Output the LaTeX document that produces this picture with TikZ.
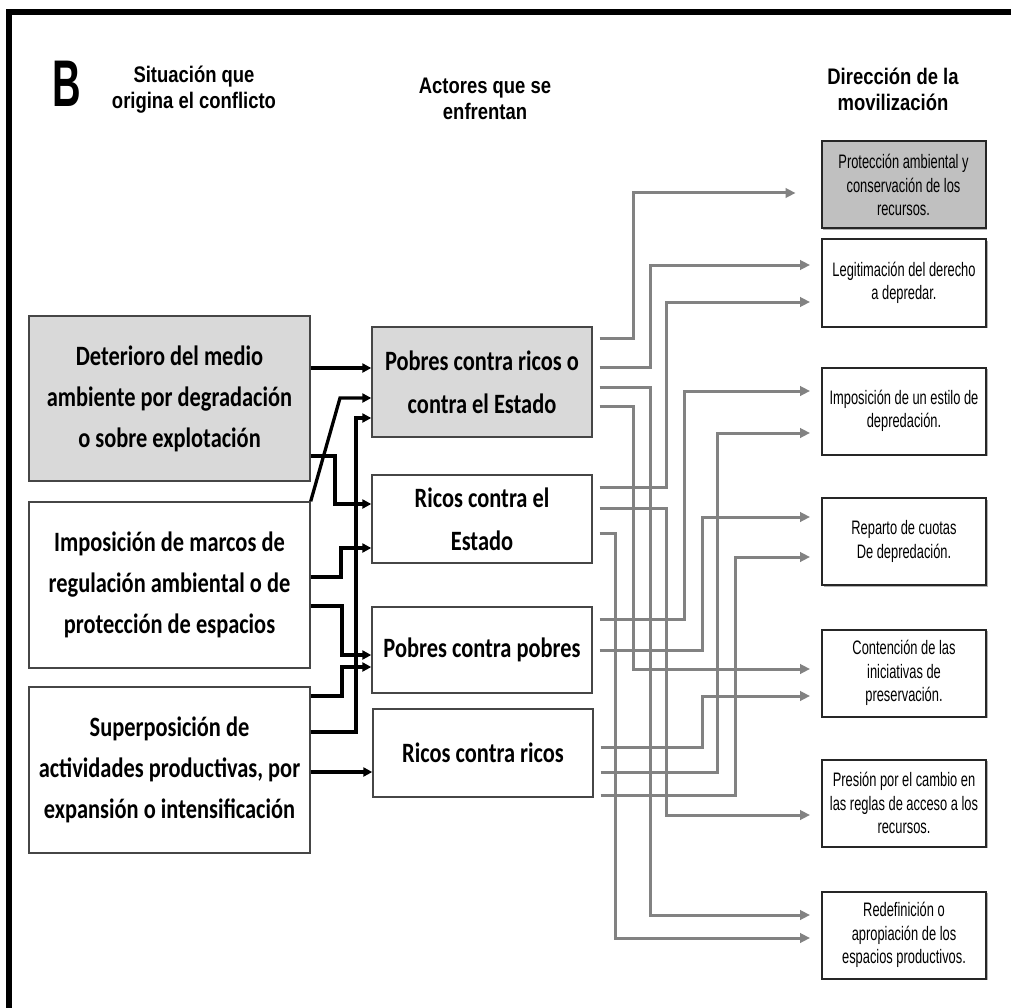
\documentclass[tikz,border=0pt]{standalone}
\usepackage{fontspec}
\usetikzlibrary{arrows.meta,shadows}
\newfontfamily\calfont[FakeStretch=0.80]{Carlito}
\newfontfamily\arnfont[FakeStretch=0.66]{Liberation Sans}
\newfontfamily\headfont[FakeStretch=0.82]{Liberation Sans}
\newfontfamily\bigbfont[FakeStretch=0.60]{Liberation Sans}
\definecolor{boxgray}{RGB}{217,217,217}
\definecolor{rgray}{RGB}{192,192,192}
\definecolor{linegray}{RGB}{130,130,130}
\definecolor{bordergray}{RGB}{70,70,70}
\begin{document}
\begin{tikzpicture}[x=1pt,y=-1pt,
  lbox/.style={draw=bordergray, line width=1.4pt, align=center, inner sep=0pt,
     font=\calfont\bfseries\fontsize{28}{41}\selectfont, text=black},
  mbox/.style={lbox, minimum width=220pt, font=\calfont\bfseries\fontsize{28}{43}\selectfont},
  rbox/.style={draw=black!85, line width=2pt, align=center, inner sep=0pt,
     minimum width=164pt, minimum height=87pt,
     font=\arnfont\fontsize{19.5}{23.5}\selectfont, fill=white,
     drop shadow={shadow xshift=1.5pt, shadow yshift=-1.5pt, fill=black!60, opacity=0.5}},
  hdr/.style={align=center, inner sep=0pt, font=\headfont\bfseries\fontsize{22.5}{26}\selectfont},
  blk/.style={line width=3.3pt, -{Triangle[length=9pt,width=9pt]}},
  gry/.style={draw=linegray, line width=3pt, -{Triangle[length=10pt,width=9.5pt]},
     shorten <=7pt, shorten >=11pt}
]
\useasboundingbox (0,0) rectangle (1011,1008);
\fill[white] (0,0) rectangle (1011,1008);
% frame
\draw[line width=6pt] (9,1014) -- (9,12) -- (1016,12);

% headers
\node[font=\bigbfont\bfseries\fontsize{66}{66}\selectfont, inner sep=0pt] (B) at (67,84) {B};
\node[hdr] (h1) at (194,90) {Situación que\\origina el conflicto};
\node[hdr] (h2) at (485,99) {Actores que se\\enfrentan};
\node[hdr] (h3) at (893,89) {Dirección de la\\movilización};

% left boxes
\node[lbox, fill=boxgray, minimum width=281pt, minimum height=165pt] (L1) at (169.5,398.5)
  {Deterioro del medio\\ambiente por degradación\\o sobre explotación};
\node[lbox, minimum width=281pt, minimum height=166pt] (L2) at (169.5,585)
  {Imposición de marcos de\\regulación ambiental o de\\protección de espacios};
\node[lbox, minimum width=281pt, minimum height=166pt] (L3) at (169.5,770)
  {Superposición de\\actividades productivas, por\\expansión o intensificación};

% middle boxes
\node[mbox, fill=boxgray, minimum height=110pt] (M1) at (482,382) {Pobres contra ricos o\\contra el Estado};
\node[mbox, minimum height=88pt] (M2) at (482,519) {Ricos contra el\\Estado};
\node[mbox, minimum height=86pt] (M3) at (482,650) {Pobres contra pobres};
\node[mbox, minimum height=88pt] (M4) at (483,753) {Ricos contra ricos};

% right boxes
\node[rbox, fill=rgray] (R1) at (903.5,185) {Protección ambiental y\\conservación de los\\recursos.};
\node[rbox] (R2) at (904,283) {Legitimación del derecho\\a depredar.};
\node[rbox] (R3) at (904,411) {Imposición de un estilo de\\depredación.};
\node[rbox] (R4) at (904,541.5) {Reparto de cuotas\\De depredación.};
\node[rbox] (R5) at (904,673) {Contención de las\\iniciativas de\\preservación.};
\node[rbox] (R6) at (904,803) {Presión por el cambio en\\las reglas de acceso a los\\recursos.};
\node[rbox] (R7) at (904,935) {Redefinición o\\apropiación de los\\espacios productivos.};

% black connectors
\draw[blk] (L1.east |- 0,368) -- (M1.west |- 0,368);
\draw[blk] (L2.north east) -- (340,398) -- (M1.west |- 0,398);
\draw[blk] (L1.east |- 0,456) -- (335,456) |- (M2.west |- 0,504);
\draw[blk] (L3.east |- 0,732) -- (356,732) |- (M1.west |- 0,418);
\draw[blk] (L2.east |- 0,577) -- (341,577) |- (M2.west |- 0,548);
\draw[blk] (L2.east |- 0,606) -- (342,606) |- (M3.west |- 0,655);
\draw[blk] (L3.east |- 0,696) -- (342,696) |- (M3.west |- 0,667);
\draw[blk] (L3.east |- 0,772) -- (M4.west |- 0,772);

% gray connectors
\draw[gry, shorten >=25pt] (M1.east |- 0,338) -- (633,338) |- (R1.west |- 0,193);
\draw[gry] (M1.east |- 0,367) -- (650,367) |- (R2.west |- 0,265);
\draw[gry] (M1.east |- 0,387) -- (650,387) |- (R7.west |- 0,915);
\draw[gry] (M1.east |- 0,406) -- (633,406) |- (R5.west |- 0,669);
\draw[gry] (M2.east |- 0,487) -- (666,487) |- (R2.west |- 0,302);
\draw[gry] (M2.east |- 0,508) -- (666,508) |- (R6.west |- 0,815);
\draw[gry] (M2.east |- 0,533) -- (615,533) |- (R7.west |- 0,938);
\draw[gry] (M3.east |- 0,619) -- (684,619) |- (R3.west |- 0,391);
\draw[gry] (M3.east |- 0,650) -- (702,650) |- (R4.west |- 0,517);
\draw[gry] (M4.east |- 0,747) -- (702,747) |- (R5.west |- 0,696);
\draw[gry] (M4.east |- 0,772) -- (717,772) |- (R3.west |- 0,433);
\draw[gry] (M4.east |- 0,795) -- (735,795) |- (R4.west |- 0,557);
\end{tikzpicture}
\end{document}
